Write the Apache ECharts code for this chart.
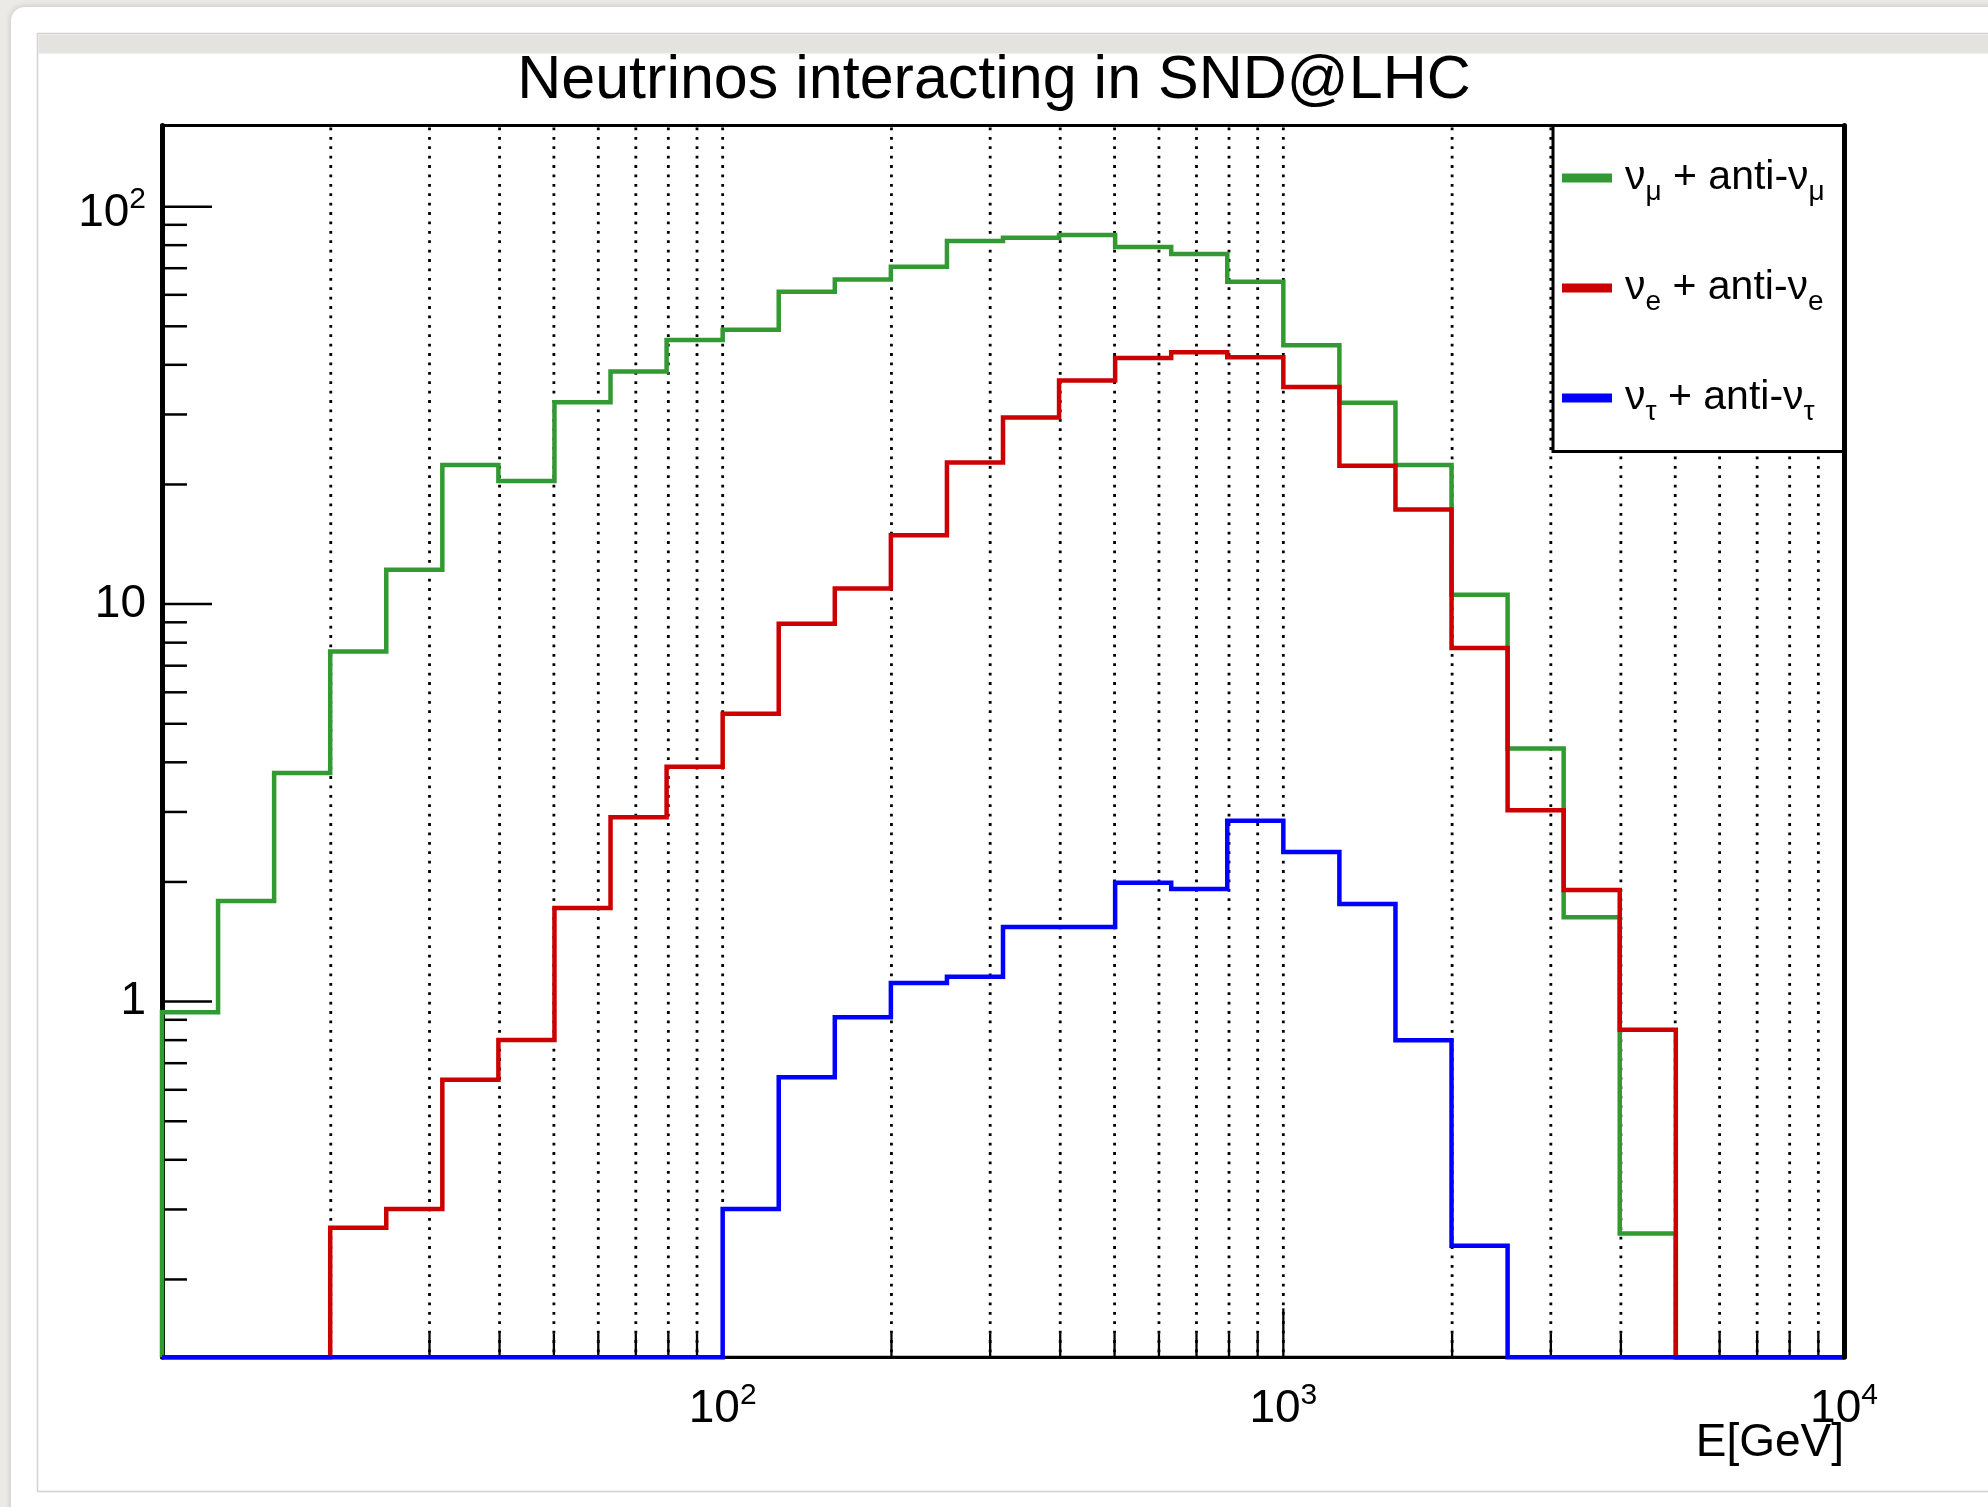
<!DOCTYPE html>
<html>
<head>
<meta charset="utf-8">
<title>Neutrinos interacting in SND@LHC</title>
<script src="https://cdn.jsdelivr.net/npm/echarts@6/dist/echarts.min.js"></script>
<style>
  html, body { margin: 0; padding: 0; background: #ebeae6; }
  #chart { width: 1988px; height: 1507px; }
</style>
</head>
<body>
<div id="chart"></div>
<script>
// Energy bin edges in GeV (10 log-spaced bins per decade, 10 GeV .. 10 TeV)
const binEdges = [10, 12.589, 15.849, 19.953, 25.119, 31.623, 39.811, 50.119, 63.096, 79.433,
  100, 125.89, 158.49, 199.53, 251.19, 316.23, 398.11, 501.19, 630.96, 794.33,
  1000, 1258.9, 1584.9, 1995.3, 2511.9, 3162.3, 3981.1, 5011.9, 6309.6, 7943.3, 10000];

// Interacting neutrinos per energy bin
const numuCounts = [0.94, 1.79, 3.76, 7.6, 12.2, 22.4, 20.4, 32.2, 38.5, 46.2,
  49.0, 61.1, 65.6, 70.6, 81.9, 83.5, 84.8, 79.1, 76.0, 64.7,
  44.8, 32.1, 22.4, 10.56, 4.33, 1.63, 0.261, 0, 0, 0];
const nueCounts = [0, 0, 0, 0.270, 0.301, 0.636, 0.801, 1.72, 2.91, 3.90,
  5.30, 8.92, 10.95, 14.9, 22.7, 29.5, 36.5, 41.6, 43.0, 41.8,
  35.2, 22.3, 17.3, 7.76, 3.03, 1.91, 0.849, 0, 0, 0];
const nutauCounts = [0, 0, 0, 0, 0, 0, 0, 0, 0, 0,
  0.301, 0.645, 0.914, 1.114, 1.155, 1.54, 1.54, 1.99, 1.92, 2.85,
  2.38, 1.76, 0.80, 0.243, 0, 0, 0, 0, 0, 0];

// Series names
const seriesNames = ['νμ + anti-νμ', 'νe + anti-νe', 'ντ + anti-ντ'];
const legendLabels = {
  'νμ + anti-νμ': 'ν{s|μ} + anti-ν{s|μ}',
  'νe + anti-νe': 'ν{s|e} + anti-ν{s|e}',
  'ντ + anti-ντ': 'ν{s|τ} + anti-ν{s|τ}'
};

// Axis ranges and tick values
const X_MIN = 10, X_MAX = 10000;
const Y_MIN = 0.1274, Y_MAX = 160;
const xMajorTicks = [100, 1000];
const xMinorTicks = [20, 30, 40, 50, 60, 70, 80, 90, 200, 300, 400, 500, 600, 700, 800, 900,
  2000, 3000, 4000, 5000, 6000, 7000, 8000, 9000];
const yMajorTicks = [1, 10, 100];
const yMinorTicks = [0.2, 0.3, 0.4, 0.5, 0.6, 0.7, 0.8, 0.9, 2, 3, 4, 5, 6, 7, 8, 9,
  20, 30, 40, 50, 60, 70, 80, 90];

const FONT = '"Liberation Sans", Arial, Helvetica, sans-serif';
const colors = ['#339933', '#cc0000', '#0000ff'];

// Step outline of a histogram; empty bins sit on the lower edge of the log axis
function histPoints(values) {
  const pts = [[binEdges[0], Y_MIN]];
  values.forEach((v, i) => pts.push([binEdges[i], v > 0 ? v : Y_MIN]));
  pts.push([binEdges[values.length], Y_MIN]);
  return pts;
}

// Decade labels: 1, 10, then 10 with a superscript exponent
function powLabel(v, isX) {
  const e = Math.round(Math.log10(v));
  if (Math.abs(v - Math.pow(10, e)) > 1e-6 * v) return '';
  if (e === 0) return isX ? '' : '{b|1}';
  if (e === 1) return isX ? '' : '{b|10}';
  return isX ? '{b|10}{sup|' + e + '}' : '{bd|10}{supd|' + e + '}';
}

function xTick(len) {
  return function (params, api) {
    const p = api.coord([api.value(0), Y_MIN]);
    return { type: 'line', shape: { x1: p[0], y1: p[1], x2: p[0], y2: p[1] - len },
      style: { stroke: '#000', lineWidth: 2.3 } };
  };
}
function yTick(len) {
  return function (params, api) {
    const p = api.coord([X_MIN, api.value(1)]);
    return { type: 'line', shape: { x1: p[0], y1: p[1], x2: p[0] + len, y2: p[1] },
      style: { stroke: '#000', lineWidth: 2.5 } };
  };
}
function xGrid(params, api) {
  const x = api.value(0);
  const p0 = api.coord([x, Y_MAX]);
  const p1 = api.coord([x, Y_MIN]);
  return { type: 'line', shape: { x1: p0[0], y1: p0[1] + 2, x2: p1[0], y2: p1[1] },
    style: { stroke: '#000', lineWidth: 2.8, lineDash: [2.8, 6.6] } };
}

const labelRich = {
  b: { fontSize: 46, lineHeight: 58, fontFamily: FONT, color: '#000' },
  sup: { fontSize: 30, lineHeight: 58, fontFamily: FONT, color: '#000', padding: [0, 0, 28, 0] },
  bd: { fontSize: 46, lineHeight: 58, fontFamily: FONT, color: '#000', padding: [14, 0, 0, 0] },
  supd: { fontSize: 30, lineHeight: 58, fontFamily: FONT, color: '#000', padding: [0, 0, 14, 0] }
};

const chart = echarts.init(document.getElementById('chart'), null, { renderer: 'canvas' });

const option = {
  animation: false,
  backgroundColor: '#ebeae6',
  title: {
    text: 'Neutrinos interacting in SND@LHC',
    left: 'center',
    top: 46,
    padding: 0,
    textStyle: { fontFamily: FONT, fontSize: 61, fontWeight: 'normal', color: '#000', lineHeight: 70 }
  },
  graphic: [
    { type: 'rect', z: -10, shape: { x: 11, y: 7, width: 2100, height: 1600, r: 14 },
      style: { fill: '#ffffff', shadowBlur: 6, shadowColor: 'rgba(0,0,0,0.18)' } },
    { type: 'rect', z: -9, shape: { x: 37.5, y: 33.5, width: 2100, height: 1458 },
      style: { fill: '#ffffff', stroke: '#d2d2d2', lineWidth: 1.5 } },
    { type: 'rect', z: -8, shape: { x: 38.5, y: 34.5, width: 2100, height: 19 },
      style: { fill: '#e5e3df' } },
    { type: 'rect', z: 10, shape: { x: 1553, y: 125.5, width: 291, height: 326 },
      style: { fill: '#ffffff', stroke: '#000', lineWidth: 3 } }
  ],
  legend: {
    z: 11,
    orient: 'vertical',
    left: 1562,
    top: 148,
    padding: 0,
    itemGap: 50,
    itemWidth: 50,
    itemHeight: 9,
    icon: 'rect',
    data: seriesNames,
    formatter: name => legendLabels[name],
    textStyle: {
      fontFamily: FONT, fontSize: 41, color: '#000', lineHeight: 60, padding: [0, 0, 0, 8],
      rich: { s: { fontFamily: FONT, fontSize: 28, color: '#000', lineHeight: 60, padding: [28, 0, 0, 0] } }
    }
  },
  grid: {
    left: 162, top: 125.5, width: 1682, height: 1231.8,
    containLabel: false, outerBoundsMode: 'none',
    show: true, borderColor: '#000', borderWidth: 3, backgroundColor: 'transparent'
  },
  xAxis: [{
    type: 'log', logBase: 10, min: X_MIN, max: X_MAX,
    name: 'E[GeV]', nameLocation: 'end', nameGap: 0, nameMoveOverlap: false,
    nameTextStyle: { fontFamily: FONT, fontSize: 46, color: '#000', align: 'right',
      verticalAlign: 'top', lineHeight: 52, padding: [60, 0, 0, 0] },
    axisLine: { show: true, lineStyle: { color: '#000', width: 3 } },
    axisTick: { show: false },
    splitLine: { show: false },
    axisLabel: { show: true, margin: 23, showMinLabel: true, showMaxLabel: true, hideOverlap: false,
      formatter: v => powLabel(v, true), rich: labelRich }
  }],
  yAxis: [{
    type: 'log', logBase: 10, min: Y_MIN, max: Y_MAX, position: 'left',
    axisLine: { show: true, lineStyle: { color: '#000', width: 5 } },
    axisTick: { show: false },
    splitLine: { show: false },
    axisLabel: { show: true, margin: 16, showMinLabel: true, showMaxLabel: true, hideOverlap: false,
      formatter: v => powLabel(v, false), rich: labelRich }
  }, {
    type: 'log', logBase: 10, min: Y_MIN, max: Y_MAX, position: 'right', z: 12,
    axisLine: { show: true, lineStyle: { color: '#000', width: 5 } },
    axisTick: { show: false }, axisLabel: { show: false }, splitLine: { show: false }
  }],
  series: [
    { type: 'custom', name: 'grid', z: 1, silent: true, renderItem: xGrid,
      data: xMajorTicks.concat(xMinorTicks).map(v => [v, Y_MIN]) },
    { type: 'custom', name: 'xmajor', z: 1, silent: true, renderItem: xTick(49),
      data: xMajorTicks.map(v => [v, Y_MIN]) },
    { type: 'custom', name: 'xminor', z: 1, silent: true, renderItem: xTick(24),
      data: xMinorTicks.map(v => [v, Y_MIN]) },
    { type: 'custom', name: 'ymajor', z: 1, silent: true, renderItem: yTick(50),
      data: yMajorTicks.map(v => [X_MIN, v]) },
    { type: 'custom', name: 'yminor', z: 1, silent: true, renderItem: yTick(25),
      data: yMinorTicks.map(v => [X_MIN, v]) }
  ].concat([numuCounts, nueCounts, nutauCounts].map((vals, i) => ({
    type: 'line',
    name: seriesNames[i],
    z: 3 + i,
    step: 'end',
    symbol: 'none',
    clip: false,
    silent: true,
    data: histPoints(vals),
    lineStyle: { color: colors[i], width: 4.5, join: 'miter', cap: 'butt' },
    itemStyle: { color: colors[i] }
  })))
};

chart.setOption(option);
</script>
</body>
</html>
